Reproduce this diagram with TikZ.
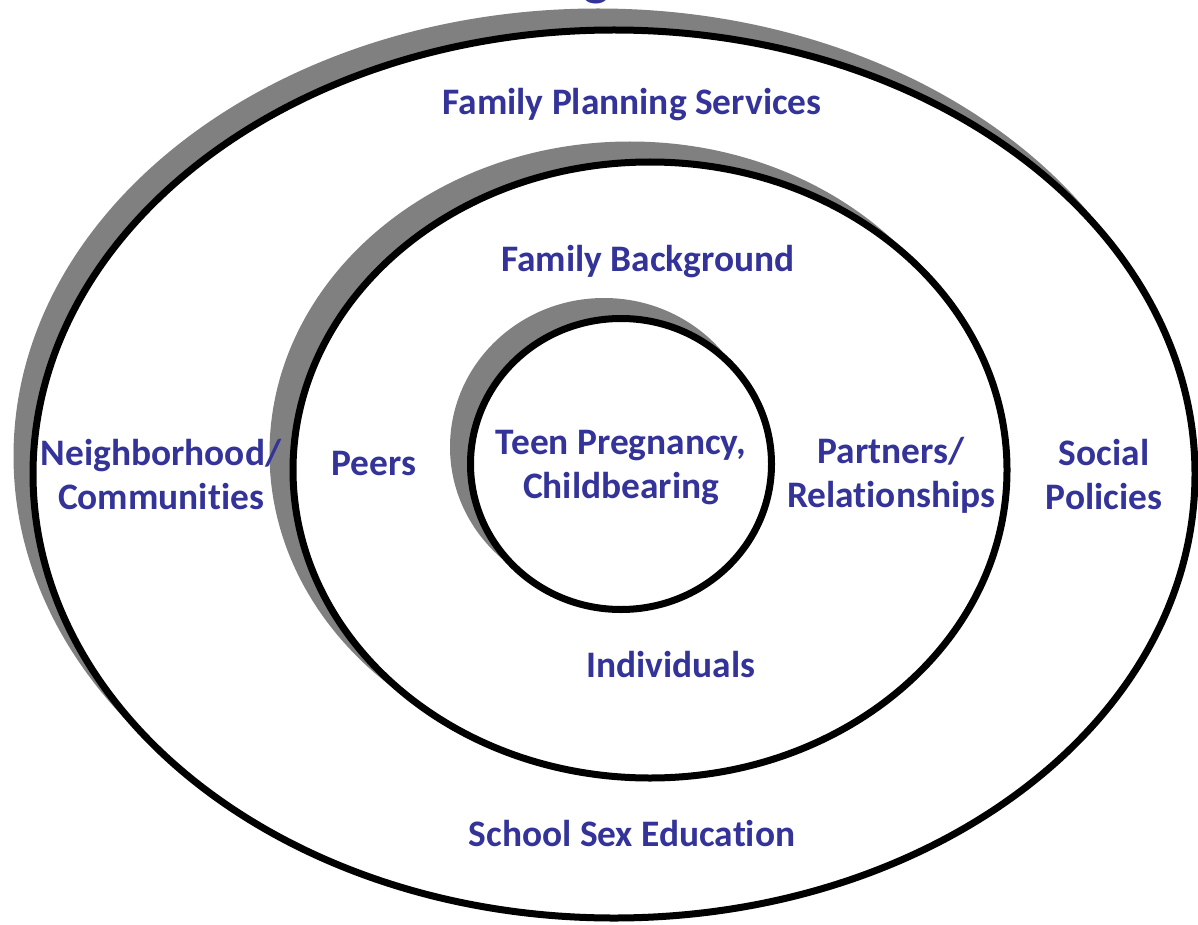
\documentclass[tikz,border=0pt]{standalone}
\usepackage{fontspec}
\setmainfont{Carlito}[Ligatures={TeX,NoCommon}]
\definecolor{txtblue}{RGB}{51,51,153}
\definecolor{shadowgray}{RGB}{128,128,128}
\tikzset{
  ring/.style={draw=black, line width=7pt, fill=white},
  shade/.style={fill=shadowgray, draw=none},
  lbl/.style={text=txtblue, font=\bfseries\fontsize{37.4}{44}\selectfont, align=center, inner sep=0pt}
}
\begin{document}
\begin{tikzpicture}[x=1pt,y=-1pt]
\useasboundingbox (0,0) rectangle (1198,925);
% cut-off title fragment
\node[text=txtblue, font=\bfseries\fontsize{56}{60}\selectfont, anchor=base, inner sep=0pt] (title) at (597,-5) {g};
% outer ellipse
\fill[shade] (598,456) ellipse [x radius=584.5pt, y radius=447.5pt];
\draw[ring] (614,474) ellipse [x radius=581pt, y radius=444pt];
% middle ellipse
\fill[shade] (630,453) ellipse [x radius=360.5pt, y radius=311.5pt];
\draw[ring] (650,470) ellipse [x radius=357pt, y radius=308pt];
% inner circle
\fill[shade] (604,447) ellipse [x radius=154pt, y radius=149pt];
\draw[ring] (621,464) ellipse [x radius=150.5pt, y radius=145.5pt];
% labels
\node[lbl] (fps) at (632,105) {Family Planning Services};
\node[lbl] (fb) at (648,262) {Family Background};
\node[lbl] (nc) at (161,475) {Neighborhood/\\Communities};
\node[lbl] (peers) at (374,464) {Peers};
\node[lbl] (teen) at (621,468) {Teen Pregnancy,\\Childbearing};
\node[lbl] (pr) at (891,475) {Partners/\\Relationships};
\node[lbl] (sp) at (1104,475) {Social\\Policies};
\node[lbl] (ind) at (671,665) {Individuals};
\node[lbl] (sse) at (632,834) {School Sex Education};
\end{tikzpicture}
\end{document}
